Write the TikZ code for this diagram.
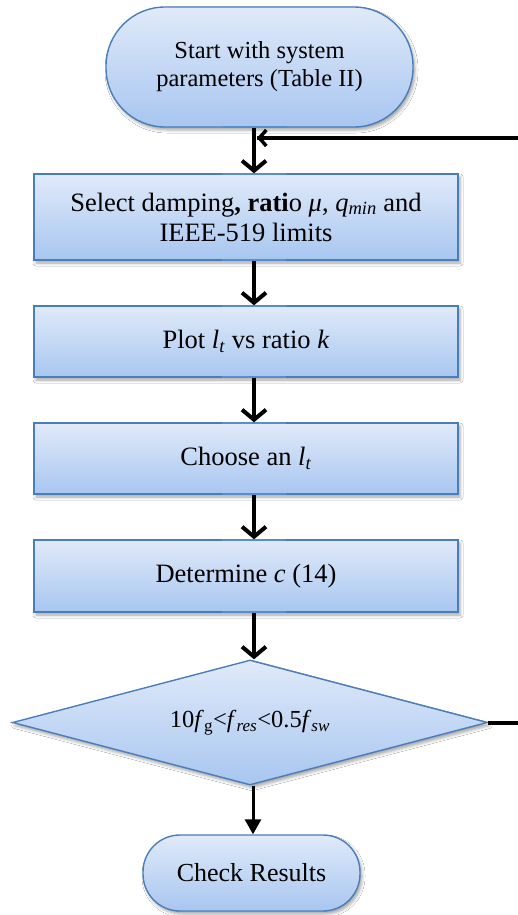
\documentclass[tikz,border=0pt]{standalone}
\usepackage{fontspec}
\setmainfont{Liberation Serif}
\usetikzlibrary{arrows.meta,shapes.geometric,shadows.blur}
\definecolor{bordc}{HTML}{4A7EBB}
\definecolor{topc}{HTML}{E0EAF9}
\definecolor{botc}{HTML}{A8C6F0}
\definecolor{tabc}{HTML}{5A8CD0}
\tikzset{
  shp/.style={draw=bordc, line width=1.4pt, top color=topc, bottom color=botc,
    blur shadow={shadow xshift=2pt, shadow yshift=-3pt, shadow blur radius=3pt, shadow opacity=35},
    inner sep=0pt, align=center, font=\fontsize{24.5}{28}\selectfont},
  stepbox/.style={shp, rectangle, minimum width=424pt, font=\fontsize{26.5}{30}\selectfont},
  termbox/.style={shp, rectangle},
  decbox/.style={shp, diamond, aspect=3.8, minimum width=475pt, minimum height=125pt},
  conn/.style={line width=4pt, -{Straight Barb[length=10pt,width=24pt]}},
  loopc/.style={line width=3.5pt, -{Straight Barb[length=7pt,width=16pt]}},
  lastc/.style={line width=3pt, -{Triangle[length=15pt,width=16pt]}},
  tab/.style={tabc, line width=2.5pt}
}
\begin{document}
\begin{tikzpicture}[x=1pt,y=1pt]
\useasboundingbox (0,0) rectangle (518,-915);
\clip (0,0) rectangle (518,-915);
\fill[white] (0,0) rectangle (518,-915);

\node[termbox, minimum width=307pt, minimum height=120pt, rounded corners=59pt] (start) at (259.5,-67)
  {Start with system\\parameters (Table II)};
\node[stepbox, minimum height=86pt] (sel) at (246,-217)
  {Select damping\textbf{, rati}o \textit{μ}, \textit{q}\textsubscript{\textit{min}} and\\IEEE-519 limits};
\node[stepbox, minimum height=71pt] (plot) at (246,-341.5)
  {Plot \textit{l}\textsubscript{\textit{t}} vs ratio \textit{k}};
\node[stepbox, minimum height=71pt] (choose) at (246,-458.5)
  {Choose an \textit{l}\textsubscript{\textit{t}}};
\node[stepbox, minimum height=72pt] (det) at (246,-576)
  {Determine \textit{c} (14)};
\node[decbox] (dec) at (250,-722.5)
  {10\textit{f}\textsubscript{g}<\textit{f}\textsubscript{\textit{res}}<0.5\textit{f}\textsubscript{\textit{sw}}};
\node[termbox, minimum width=217pt, minimum height=76pt, rounded corners=37pt,
  font=\fontsize{26}{30}\selectfont] (check) at (251.5,-873) {Check Results};

% connection tabs
\draw[tab] (223,-127) -- (287,-127);
\draw[tab] (222,-174) -- (286,-174);
\draw[tab] (222,-260) -- (286,-260);
\draw[tab] (222,-306) -- (286,-306);
\draw[tab] (222,-377) -- (286,-377);
\draw[tab] (222,-423) -- (286,-423);
\draw[tab] (222,-494) -- (286,-494);
\draw[tab] (222,-540) -- (286,-540);
\draw[tab] (222,-612) -- (286,-612);

\coordinate (loopin) at (257,-138);
\coordinate (rt) at (560,0);

\draw[conn] (start.south -| 254,0) -- (sel.north -| 254,0);
\draw[conn] (sel.south -| 254,0) -- (plot.north -| 254,0);
\draw[conn] (plot.south -| 254,0) -- (choose.north -| 254,0);
\draw[conn] (choose.south -| 254,0) -- (det.north -| 254,0);
\draw[conn] (det.south -| 254,0) -- (dec.north -| 254,0);
\draw[lastc] (dec.south -| 253,0) -- (check.north -| 253,0);
\draw[line width=4pt] (dec.east) -- (dec.east -| rt) |- (loopin |- 0,-138);
\draw[loopc] (rt |- loopin) -- (loopin);
\end{tikzpicture}
\end{document}
